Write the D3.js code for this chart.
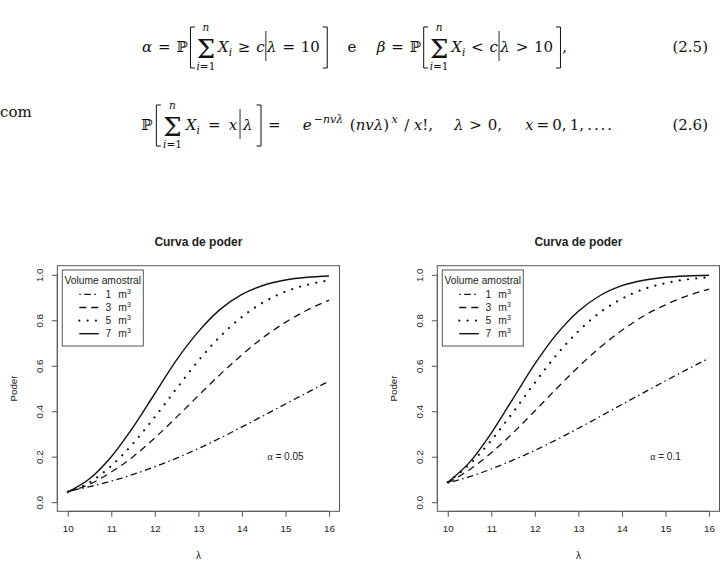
<!DOCTYPE html>
<html><head><meta charset="utf-8">
<script src="https://cdn.jsdelivr.net/npm/d3@7"></script>
<style>
body{margin:0;background:#fff;}
svg{display:block;}
</style></head><body>
<svg id="c" width="727" height="570"></svg>
<script>
// ---------------- data ----------------
const lambdaValues = [10,10.5,11,11.5,12,12.5,13,13.5,14,14.5,15,15.5,16];
const volumeLabels = ["1","3","5","7"];
const xTicks = [10,11,12,13,14,15,16];
const yTicks = [0,0.2,0.4,0.6,0.8,1.0];
const alphaLabels = ["0.05","0.1"];
const chartTitle = "Curva de poder";
const legendTitle = "Volume amostral";

// alpha = 0.05 panel
const power005_v1 = [0.049,0.068,0.093,0.122,0.156,0.194,0.236,0.282,0.331,0.381,0.432,0.482,0.533];
const power005_v3 = [0.045,0.079,0.133,0.200,0.283,0.374,0.469,0.562,0.648,0.726,0.791,0.845,0.889];
const power005_v5 = [0.044,0.087,0.160,0.258,0.375,0.500,0.622,0.729,0.815,0.880,0.926,0.956,0.976];
const power005_v7 = [0.045,0.103,0.200,0.330,0.478,0.626,0.750,0.848,0.914,0.954,0.977,0.989,0.995];
// alpha = 0.1 panel
const power010_v1 = [0.085,0.112,0.146,0.185,0.228,0.275,0.325,0.377,0.430,0.482,0.534,0.584,0.633];
const power010_v3 = [0.085,0.143,0.217,0.305,0.401,0.500,0.595,0.681,0.756,0.819,0.868,0.907,0.937];
const power010_v5 = [0.088,0.167,0.272,0.396,0.526,0.648,0.752,0.835,0.895,0.937,0.963,0.980,0.989];
const power010_v7 = [0.088,0.175,0.304,0.456,0.608,0.739,0.840,0.909,0.952,0.976,0.989,0.995,0.998];

// ---------------- drawing ----------------
const svg = d3.select("#c");
const INK = "#111";
const TXT = "#222";
const BOX = "#555";
const SANS = "'Liberation Sans', Arial, Helvetica, sans-serif";
const SERIF = "'DejaVu Serif', 'Liberation Serif', serif";
const FS = 15, SUB = 10.5, SUP = 11, SUMFS = 26;

// ---- math header: groups laid out between two x positions with weighted flexible spaces ----
function makeText(sel, x, y, it) {
  return sel.append("text").attr("x", x).attr("y", y + (it.dy || 0)).text(it.s)
    .style("font-family", SERIF).style("font-size", (it.fs || FS) + "px")
    .style("font-style", it.it ? "italic" : "normal").attr("fill", INK)
    .attr("xml:space", "preserve").style("white-space", "pre");
}
function itemWidth(sel, y, it) {
  if (it.sp) return 0;
  if (it.bar) return 2.5;
  if (it.br) return 4.5;
  if (it.sum) it = {s:"Σ", fs:SUMFS};
  const t = makeText(sel, 0, y, it);
  const w = t.node().getComputedTextLength();
  t.remove();
  return w;
}
function group(sel, y, x0, x1, items) {
  const widths = items.map(it => itemWidth(sel, y, it));
  const nat = d3.sum(widths);
  const wsum = d3.sum(items, it => it.sp || 0);
  const sp = x1 === null || wsum === 0 ? 4.5 : (x1 - x0 - nat) / wsum;
  let x = x0;
  items.forEach((it, i) => {
    if (it.sp) { x += it.sp * sp; return; }
    if (it.bar) {
      sel.append("line").attr("x1", x + 1.25).attr("x2", x + 1.25).attr("y1", it.top).attr("y2", it.bot)
        .attr("stroke", INK).attr("stroke-width", 0.9);
    } else if (it.br) {
      const w = 4.5;
      const p = it.br === "L" ? `M${x + w},${it.top}H${x}V${it.bot}H${x + w}` : `M${x},${it.top}H${x + w}V${it.bot}H${x}`;
      sel.append("path").attr("d", p).attr("fill", "none").attr("stroke", INK).attr("stroke-width", 1);
    } else if (it.sum) {
      sel.append("text").attr("x", x).attr("y", y + 6).text("Σ")
        .style("font-family", SERIF).style("font-size", SUMFS + "px").attr("fill", INK);
      const cx = x + widths[i] / 2;
      sel.append("text").attr("x", cx).attr("y", y - 21).attr("text-anchor", "middle").text("n")
        .style("font-family", SERIF).style("font-size", SUB + "px").style("font-style", "italic").attr("fill", INK);
      const b = sel.append("text").attr("x", cx).attr("y", y + 18).attr("text-anchor", "middle")
        .style("font-family", SERIF).style("font-size", SUB + "px").attr("fill", INK);
      b.append("tspan").style("font-style", "italic").text("i");
      b.append("tspan").text("=1");
    } else {
      makeText(sel, x, y, it);
    }
    x += widths[i];
  });
  return x;
}

const hdr = svg.append("g");
// ---- equation (2.5) ----
const Y1 = 52, T1 = 27, B1 = 68;
group(hdr, Y1, 142, 567, [
  {s:"α", it:1}, {sp:1}, {s:"="}, {sp:1}, {s:"ℙ"}, {sp:0.5}, {br:"L", top:T1, bot:B1}, {sp:0.3},
  {sum:1}, {sp:0.5}, {s:"X", it:1}, {s:"i", it:1, fs:SUB, dy:3.5}, {sp:1}, {s:"≥"}, {sp:1}, {s:"c", it:1},
  {bar:1, top:31, bot:61}, {s:"λ", it:1}, {sp:1}, {s:"="}, {sp:1}, {s:"10"}, {sp:0.5}, {br:"R", top:T1, bot:B1},
  {sp:3.5}, {s:"e"}, {sp:3.5},
  {s:"β", it:1}, {sp:1}, {s:"="}, {sp:1}, {s:"ℙ"}, {sp:0.5}, {br:"L", top:T1, bot:B1}, {sp:0.3},
  {sum:1}, {sp:0.5}, {s:"X", it:1}, {s:"i", it:1, fs:SUB, dy:3.5}, {sp:1}, {s:"<"}, {sp:1}, {s:"c", it:1},
  {bar:1, top:31, bot:61}, {s:"λ", it:1}, {sp:1}, {s:">"}, {sp:1}, {s:"10"}, {sp:0.5}, {br:"R", top:T1, bot:B1},
  {sp:0.3}, {s:","}
]);
hdr.append("text").attr("x", 708).attr("y", Y1).attr("text-anchor", "end").text("(2.5)")
  .style("font-family", SERIF).style("font-size", FS + "px").attr("fill", INK);

hdr.append("text").attr("x", 0).attr("y", 117).text("com")
  .style("font-family", SERIF).style("font-size", FS + "px").attr("fill", INK);

// ---- equation (2.6) ----
const Y2 = 130, T2 = 105, B2 = 146;
group(hdr, Y2, 141, 261, [
  {s:"ℙ"}, {sp:0.5}, {br:"L", top:T2, bot:B2}, {sp:0.3}, {sum:1}, {sp:0.5},
  {s:"X", it:1}, {s:"i", it:1, fs:SUB, dy:3.5}, {sp:1}, {s:"="}, {sp:1}, {s:"x", it:1},
  {sp:0.2}, {bar:1, top:109, bot:139}, {sp:0.2}, {s:"λ", it:1}, {sp:0.5}, {br:"R", top:T2, bot:B2}]);
group(hdr, Y2, 268, 433, [
  {s:"="}, {sp:1}, {s:"e", it:1}, {sp:0.1}, {s:"−nvλ", it:1, fs:SUP, dy:-7}, {sp:0.3}, {s:"("}, {s:"nvλ", it:1}, {s:")"},
  {sp:0.1}, {s:"x", it:1, fs:SUP, dy:-7}, {sp:0.3}, {s:"/"}, {sp:0.2}, {s:"x", it:1}, {s:"!,"}]);
group(hdr, Y2, 454, 502, [{s:"λ", it:1}, {sp:1}, {s:">"}, {sp:1}, {s:"0,"}]);
group(hdr, Y2, 525, 612, [{s:"x", it:1}, {sp:1}, {s:"="}, {sp:1}, {s:"0,"}, {sp:1}, {s:"1,"}, {sp:1},
  {s:"."}, {sp:0.6}, {s:"."}, {sp:0.6}, {s:"."}, {sp:0.6}, {s:"."}]);
hdr.append("text").attr("x", 708).attr("y", Y2).attr("text-anchor", "end").text("(2.6)")
  .style("font-family", SERIF).style("font-size", FS + "px").attr("fill", INK);

// ---- panels ----
const lineStyles = [
  {dash:"1.5,3.5,6.5,3.5", w:1.3, cap:"butt"},
  {dash:"7,5", w:1.3, cap:"butt"},
  {dash:"0.01,8.3", w:2.2, cap:"round"},
  {dash:null, w:1.4, cap:"butt"}
];

function panel(left, seriesList, alphaText) {
  const top = 265.7, bottom = 511.3, right = left + 282.2;
  const x = d3.scaleLinear().domain([9.76, 16.24]).range([left, right]);
  const y = d3.scaleLinear().domain([-0.04, 1.04]).range([bottom, top]);
  const g = svg.append("g");

  g.append("text").attr("x", (left + right) / 2).attr("y", 246).attr("text-anchor", "middle")
    .text(chartTitle).style("font-family", SANS).style("font-size", "12px").style("font-weight", "bold").attr("fill", TXT);

  g.append("rect").attr("x", left).attr("y", top).attr("width", right - left).attr("height", bottom - top)
    .attr("fill", "none").attr("stroke", BOX).attr("stroke-width", 1);

  const xa = g.append("g").attr("transform", `translate(0,${bottom})`)
    .call(d3.axisBottom(x).tickValues(xTicks).tickSize(5.5).tickPadding(8).tickFormat(d3.format("d")));
  xa.select(".domain").attr("d", `M${x(10)},0H${x(16)}`).attr("stroke", BOX);
  xa.selectAll(".tick line").attr("stroke", BOX);
  xa.selectAll("text").style("font-family", SANS).style("font-size", "9.8px").attr("fill", TXT);

  const ya = g.append("g").attr("transform", `translate(${left},0)`)
    .call(d3.axisLeft(y).tickValues(yTicks).tickSize(5.5).tickFormat(d3.format(".1f")));
  ya.select(".domain").attr("d", `M0,${y(0)}V${y(1)}`).attr("stroke", BOX);
  ya.selectAll(".tick line").attr("stroke", BOX);
  ya.selectAll("text").attr("x", null).attr("dy", null)
    .attr("transform", "translate(-14.5,0) rotate(-90)").attr("text-anchor", "middle")
    .style("font-family", SANS).style("font-size", "9.8px").attr("fill", TXT);

  g.append("text").attr("transform", `translate(${left - 40.5},${(top + bottom) / 2}) rotate(-90)`)
    .attr("text-anchor", "middle").text("Poder").style("font-family", SANS).style("font-size", "9.8px").attr("fill", TXT);
  g.append("text").attr("x", (left + right) / 2).attr("y", 558.5).attr("text-anchor", "middle")
    .text("λ").style("font-family", SANS).style("font-size", "10px").attr("fill", TXT);

  const line = d3.line().x(d => x(d[0])).y(d => y(d[1])).curve(d3.curveMonotoneX);
  seriesList.forEach((vals, i) => {
    const st = lineStyles[i];
    g.append("path").datum(lambdaValues.map((l, k) => [l, vals[k]]))
      .attr("d", line).attr("fill", "none").attr("stroke", INK)
      .attr("stroke-width", st.w).attr("stroke-linecap", st.cap)
      .attr("stroke-dasharray", st.dash);
  });

  const at = g.append("text").attr("x", x(15)).attr("y", y(0.2) + 3.6).attr("text-anchor", "middle")
    .style("font-family", SANS).style("font-size", "10px").attr("fill", TXT);
  at.append("tspan").text("α").style("font-family", "'Liberation Serif', serif");
  at.append("tspan").text(" = " + alphaText);

  const lx = left + 5, ly = 270;
  g.append("rect").attr("x", lx).attr("y", ly).attr("width", 81).attr("height", 76)
    .attr("fill", "#fff").attr("stroke", BOX).attr("stroke-width", 1);
  g.append("text").attr("x", lx + 40.5).attr("y", 283.6).attr("text-anchor", "middle").text(legendTitle)
    .style("font-family", SANS).style("font-size", "10.3px").attr("fill", TXT);
  volumeLabels.forEach((v, i) => {
    const by = 298 + i * 13.1;
    const st = lineStyles[i];
    g.append("line").attr("x1", left + 22).attr("x2", left + 41.5).attr("y1", by - 3.6).attr("y2", by - 3.6)
      .attr("stroke", INK).attr("stroke-width", st.w).attr("stroke-linecap", st.cap)
      .attr("stroke-dasharray", st.dash);
    g.append("text").attr("x", left + 51).attr("y", by).attr("text-anchor", "middle").text(v)
      .style("font-family", SANS).style("font-size", "10.3px").attr("fill", TXT);
    const mt = g.append("text").attr("x", left + 61).attr("y", by)
      .style("font-family", SANS).style("font-size", "10.3px").attr("fill", TXT);
    mt.append("tspan").text("m");
    mt.append("tspan").attr("dy", -4.5).style("font-size", "7px").text("3");
  });
}

panel(57.3, [power005_v1, power005_v3, power005_v5, power005_v7], alphaLabels[0]);
panel(437.3, [power010_v1, power010_v3, power010_v5, power010_v7], alphaLabels[1]);
</script>
</body></html>
